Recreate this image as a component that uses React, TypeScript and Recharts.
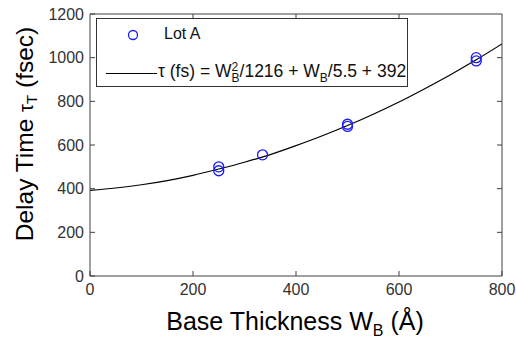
import { ComposedChart, Line, Scatter, XAxis, YAxis, Legend, ReferenceLine } from 'recharts'

// measured delay times for Lot A (W_B in Angstrom, tau in fs)
const lotAW = [250, 250, 335, 500, 500, 750, 750]
const lotATau = [482, 500, 555, 685, 695, 985, 1000]

// fitted curve
const fitW = [0, 50, 100, 150, 200, 250, 300, 350, 400, 450, 500, 550, 600, 650, 700, 750, 800]
const fitTau = [392, 403, 418, 437, 461, 490, 521, 556, 597, 641, 689, 741, 797, 858, 922, 990, 1063]

const xTicks = [0, 200, 400, 600, 800]
const yTicks = [0, 200, 400, 600, 800, 1000, 1200]

const lotA = lotAW.map((w, i) => ({ w, tau: lotATau[i] }))
const fit = fitW.map((w, i) => ({ w, tau: fitTau[i] }))

const X_MAX = 800
const Y_MAX = 1200
// inward tick length (~5px) in data units, for the top / right edges
const TICK_DX = 9.7
const TICK_DY = 23

const FONT = 'Arial, "Liberation Sans", sans-serif'
const AXIS = '#404040'
const BLUE = '#1a1aff'

// bottom / left axes are mirrored so their tick marks point inwards (matlab style)
function BottomTick({ x, y, payload }: any) {
  return (
    <text x={x} y={y + 24} textAnchor="middle" fontFamily={FONT} fontSize={16} fill="#333">
      {payload.value}
    </text>
  )
}

function LeftTick({ x, y, payload }: any) {
  return (
    <text x={x - 11} y={y} dy="0.35em" textAnchor="end" fontFamily={FONT} fontSize={16} fill="#333">
      {payload.value}
    </text>
  )
}

function XLabel({ viewBox }: any) {
  const cx = viewBox.x + viewBox.width / 2 - 1
  return (
    <text x={cx} y={330} textAnchor="middle" fontFamily={FONT} fontSize={25} fill="#000">
      Base Thickness W<tspan fontSize={16} dy={6}>B</tspan>
      <tspan dy={-6}> (Å)</tspan>
    </text>
  )
}

function YLabel() {
  const cx = 33
  const cy = 134
  return (
    <text
      x={cx}
      y={cy}
      transform={`rotate(-90 ${cx} ${cy})`}
      textAnchor="middle"
      fontFamily={FONT}
      fontSize={24.5}
      fill="#000"
    >
      Delay Time <tspan fontSize={20}>τ</tspan>
      <tspan fontSize={15} dy={4}>T</tspan>
      <tspan dy={-4}> (fsec)</tspan>
    </text>
  )
}

function LegendBox() {
  return (
    <div
      style={{
        width: 310,
        height: 67,
        border: '1px solid #333',
        background: '#fff',
        fontFamily: FONT,
        color: '#111',
        position: 'relative',
      }}
    >
      <svg width={14} height={14} style={{ position: 'absolute', left: 29, top: 9 }}>
        <circle cx={7} cy={7} r={4.5} fill="none" stroke={BLUE} strokeWidth={1.3} />
      </svg>
      <span style={{ position: 'absolute', left: 67, top: 6, fontSize: 16 }}>Lot A</span>
      <div style={{ position: 'absolute', left: 9, top: 54, width: 51, borderTop: '1px solid #000' }} />
      <span style={{ position: 'absolute', left: 61, top: 42, whiteSpace: 'nowrap', fontSize: 17.5 }}>
        τ (fs) = W
        <span
          style={{
            display: 'inline-flex',
            flexDirection: 'column',
            fontSize: 12,
            lineHeight: '11px',
            verticalAlign: 6,
          }}
        >
          <span>2</span>
          <span>B</span>
        </span>
        /1216 + W
        <span style={{ fontSize: 12, position: 'relative', top: 5 }}>B</span>
        /5.5 + 392
      </span>
    </div>
  )
}

const axisIds = { xAxisId: 'b', yAxisId: 'l' }

export default function App() {
  return (
    <>
      <style>{'body { margin: 0; overflow: hidden; }'}</style>
      <ComposedChart width={516} height={341} margin={{ top: 14, right: 14, bottom: 65, left: 90 }}>
        <XAxis
          xAxisId="b"
          orientation="bottom"
          mirror
          dataKey="w"
          type="number"
          domain={[0, X_MAX]}
          ticks={xTicks}
          allowDataOverflow
          tickSize={5}
          tickMargin={0}
          stroke={AXIS}
          tickLine={{ stroke: AXIS }}
          tick={<BottomTick />}
          label={<XLabel />}
        />
        <YAxis
          yAxisId="l"
          orientation="left"
          mirror
          type="number"
          domain={[0, Y_MAX]}
          ticks={yTicks}
          allowDataOverflow
          tickSize={5}
          tickMargin={0}
          stroke={AXIS}
          tickLine={{ stroke: AXIS }}
          tick={<LeftTick />}
          label={<YLabel />}
        />
        {/* box frame: top and right edges */}
        <ReferenceLine {...axisIds} y={Y_MAX} stroke={AXIS} ifOverflow="visible" />
        <ReferenceLine {...axisIds} x={X_MAX} stroke={AXIS} ifOverflow="visible" />
        {/* inward ticks on the top and right edges */}
        {xTicks.slice(1, -1).map((t) => (
          <ReferenceLine
            key={'tt' + t}
            {...axisIds}
            stroke={AXIS}
            ifOverflow="visible"
            segment={[{ x: t, y: Y_MAX }, { x: t, y: Y_MAX - TICK_DY }]}
          />
        ))}
        {yTicks.slice(1, -1).map((t) => (
          <ReferenceLine
            key={'rt' + t}
            {...axisIds}
            stroke={AXIS}
            ifOverflow="visible"
            segment={[{ x: X_MAX, y: t }, { x: X_MAX - TICK_DX, y: t }]}
          />
        ))}
        <Legend
          layout="horizontal"
          verticalAlign="middle"
          align="center"
          content={() => <LegendBox />}
          wrapperStyle={{ top: 18, left: 96, width: 'auto' }}
        />
        <Line
          {...axisIds}
          data={fit}
          dataKey="tau"
          type="monotone"
          stroke="#000"
          strokeWidth={1.2}
          dot={false}
          activeDot={false}
          isAnimationActive={false}
        />
        <Scatter
          {...axisIds}
          data={lotA}
          dataKey="tau"
          isAnimationActive={false}
          shape={(p: any) => (
            <circle cx={p.cx} cy={p.cy} r={5} fill="none" stroke={BLUE} strokeWidth={1.3} />
          )}
        />
      </ComposedChart>
    </>
  )
}
